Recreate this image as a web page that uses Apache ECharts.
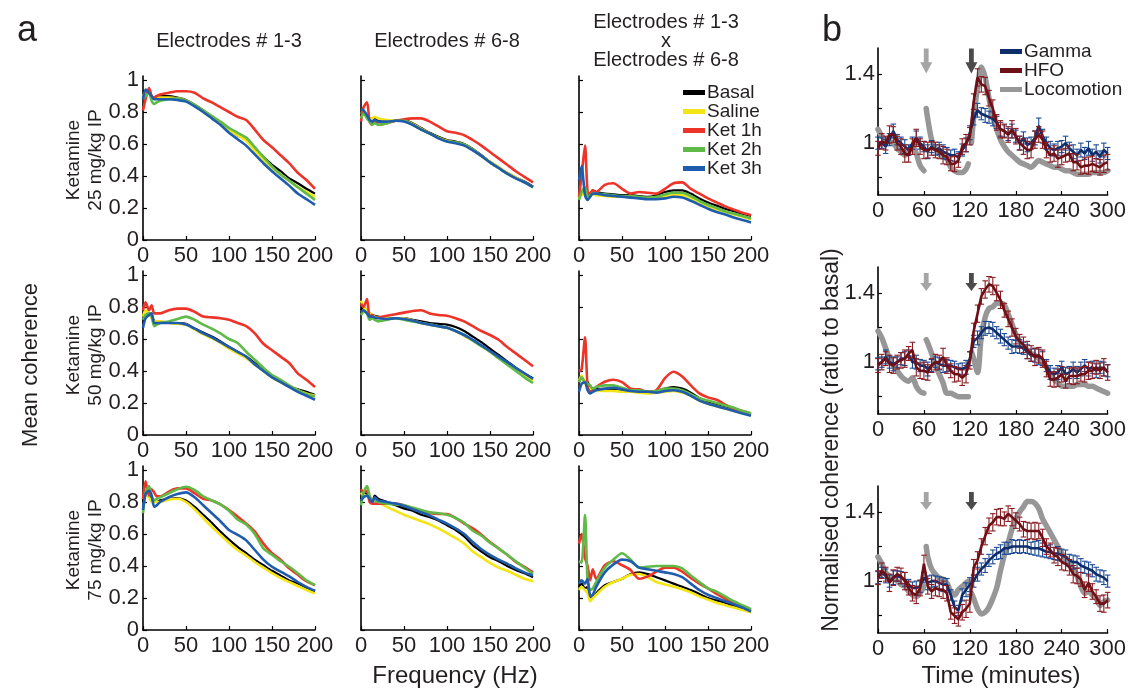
<!DOCTYPE html>
<html><head><meta charset="utf-8">
<script src="https://cdn.jsdelivr.net/npm/echarts@6/dist/echarts.min.js"></script>
<style>html,body{margin:0;padding:0;background:#fff}#c{width:1129px;height:689px}</style>
</head><body><div id="c"></div>
<script>
// ---------- Panel a data (frequency in Hz) ----------
const freqHz = [0,3,7,10,13,16,20,30,40,50,60,70,80,90,100,110,120,130,140,150,160,170,180,190,200];
const conditions = ['Basal','Saline','Ket 1h','Ket 2h','Ket 3h'];
const freqTicks = [0,50,100,150,200];
const cohTicks = [0,0.2,0.4,0.6,0.8,1];

// Row 1: Ketamine 25 mg/kg
const r1c1_basal = [0.93,0.93,0.94,0.90,0.88,0.90,0.90,0.90,0.89,0.875,0.845,0.81,0.77,0.73,0.69,0.655,0.625,0.57,0.52,0.47,0.43,0.385,0.355,0.32,0.29];
const r1c1_saline = [0.90,0.92,0.92,0.90,0.89,0.89,0.89,0.89,0.885,0.87,0.84,0.80,0.765,0.73,0.69,0.655,0.62,0.56,0.50,0.45,0.41,0.37,0.33,0.30,0.27];
const r1c1_ket1 = [0.81,0.88,0.95,0.90,0.89,0.90,0.91,0.92,0.93,0.93,0.92,0.885,0.86,0.83,0.80,0.77,0.75,0.69,0.625,0.58,0.53,0.48,0.42,0.375,0.32];
const r1c1_ket2 = [0.88,0.90,0.92,0.87,0.85,0.86,0.87,0.88,0.885,0.87,0.845,0.81,0.775,0.74,0.70,0.67,0.64,0.58,0.52,0.46,0.41,0.37,0.33,0.29,0.25];
const r1c1_ket3 = [0.88,0.94,0.92,0.90,0.88,0.88,0.88,0.88,0.875,0.865,0.835,0.80,0.76,0.72,0.67,0.63,0.59,0.535,0.48,0.43,0.385,0.34,0.29,0.255,0.22];

const r1c2_basal = [0.78,0.80,0.77,0.76,0.73,0.76,0.745,0.74,0.745,0.75,0.73,0.70,0.67,0.645,0.625,0.615,0.60,0.57,0.53,0.49,0.455,0.42,0.39,0.365,0.335];
const r1c2_saline = [0.80,0.79,0.77,0.76,0.76,0.77,0.76,0.75,0.745,0.745,0.725,0.695,0.665,0.64,0.62,0.61,0.595,0.565,0.525,0.49,0.455,0.42,0.39,0.36,0.33];
const r1c2_ket1 = [0.74,0.83,0.86,0.74,0.72,0.75,0.72,0.73,0.745,0.755,0.76,0.76,0.74,0.71,0.68,0.67,0.655,0.625,0.59,0.55,0.51,0.47,0.43,0.395,0.36];
const r1c2_ket2 = [0.76,0.79,0.76,0.74,0.72,0.73,0.72,0.73,0.745,0.745,0.72,0.69,0.665,0.64,0.615,0.61,0.595,0.565,0.525,0.485,0.45,0.415,0.385,0.36,0.33];
const r1c2_ket3 = [0.82,0.81,0.78,0.75,0.74,0.75,0.74,0.74,0.745,0.74,0.72,0.69,0.665,0.635,0.615,0.605,0.59,0.56,0.525,0.485,0.45,0.415,0.385,0.36,0.33];

const r1c3_basal = [0.28,0.30,0.32,0.28,0.29,0.31,0.30,0.29,0.285,0.28,0.28,0.275,0.27,0.28,0.30,0.31,0.31,0.29,0.26,0.235,0.215,0.195,0.18,0.165,0.15];
const r1c3_saline = [0.26,0.28,0.30,0.27,0.28,0.285,0.28,0.275,0.27,0.27,0.27,0.265,0.26,0.26,0.27,0.28,0.28,0.26,0.235,0.21,0.19,0.175,0.16,0.145,0.13];
const r1c3_ket1 = [0.27,0.40,0.59,0.30,0.29,0.31,0.30,0.345,0.355,0.32,0.29,0.30,0.295,0.29,0.32,0.355,0.36,0.32,0.29,0.26,0.235,0.21,0.19,0.17,0.155];
const r1c3_ket2 = [0.25,0.30,0.33,0.27,0.28,0.29,0.29,0.285,0.28,0.275,0.275,0.27,0.265,0.27,0.285,0.295,0.295,0.275,0.245,0.22,0.20,0.18,0.165,0.15,0.135];
const r1c3_ket3 = [0.37,0.46,0.28,0.25,0.27,0.29,0.29,0.28,0.275,0.27,0.265,0.26,0.255,0.255,0.26,0.27,0.265,0.245,0.22,0.195,0.175,0.16,0.14,0.125,0.11];

// Row 2: Ketamine 50 mg/kg
const r2c1_basal = [0.70,0.74,0.76,0.75,0.71,0.70,0.70,0.70,0.70,0.695,0.665,0.64,0.615,0.585,0.55,0.52,0.49,0.45,0.405,0.365,0.335,0.305,0.285,0.27,0.25];
const r2c1_saline = [0.74,0.78,0.76,0.73,0.71,0.71,0.71,0.70,0.695,0.69,0.66,0.63,0.605,0.575,0.54,0.51,0.48,0.44,0.40,0.36,0.33,0.305,0.28,0.26,0.245];
const r2c1_ket1 = [0.78,0.83,0.78,0.81,0.76,0.76,0.76,0.78,0.79,0.79,0.77,0.74,0.735,0.73,0.72,0.70,0.68,0.635,0.57,0.53,0.49,0.45,0.385,0.345,0.30];
const r2c1_ket2 = [0.72,0.75,0.76,0.74,0.68,0.69,0.70,0.71,0.725,0.74,0.72,0.69,0.665,0.635,0.60,0.575,0.52,0.47,0.42,0.375,0.345,0.31,0.28,0.255,0.24];
const r2c1_ket3 = [0.67,0.73,0.75,0.76,0.70,0.70,0.70,0.70,0.70,0.69,0.665,0.635,0.61,0.58,0.55,0.52,0.49,0.44,0.40,0.36,0.33,0.30,0.27,0.245,0.22];

const r2c2_basal = [0.78,0.80,0.78,0.76,0.75,0.745,0.74,0.73,0.73,0.73,0.72,0.71,0.70,0.695,0.69,0.675,0.65,0.615,0.58,0.54,0.50,0.46,0.42,0.385,0.355];
const r2c2_saline = [0.84,0.80,0.78,0.76,0.75,0.74,0.735,0.73,0.73,0.73,0.715,0.70,0.69,0.68,0.67,0.65,0.62,0.59,0.555,0.52,0.48,0.45,0.41,0.375,0.34];
const r2c2_ket1 = [0.82,0.80,0.85,0.74,0.75,0.73,0.735,0.745,0.755,0.765,0.775,0.78,0.76,0.75,0.745,0.73,0.71,0.68,0.65,0.625,0.595,0.55,0.51,0.47,0.43];
const r2c2_ket2 = [0.75,0.77,0.76,0.72,0.73,0.72,0.71,0.72,0.73,0.72,0.71,0.70,0.69,0.68,0.67,0.65,0.625,0.59,0.555,0.52,0.48,0.44,0.40,0.36,0.325];
const r2c2_ket3 = [0.77,0.78,0.76,0.74,0.74,0.735,0.73,0.725,0.73,0.725,0.715,0.70,0.69,0.68,0.67,0.65,0.625,0.595,0.56,0.525,0.49,0.455,0.42,0.385,0.35];

const r2c3_basal = [0.33,0.36,0.33,0.33,0.30,0.29,0.29,0.285,0.285,0.28,0.28,0.275,0.27,0.275,0.29,0.30,0.29,0.265,0.23,0.205,0.19,0.175,0.16,0.145,0.13];
const r2c3_saline = [0.34,0.37,0.32,0.30,0.29,0.28,0.28,0.275,0.275,0.27,0.27,0.265,0.26,0.265,0.27,0.275,0.265,0.245,0.215,0.195,0.18,0.165,0.15,0.14,0.125];
const r2c3_ket1 = [0.40,0.41,0.61,0.30,0.27,0.28,0.30,0.333,0.345,0.33,0.29,0.285,0.27,0.28,0.355,0.395,0.365,0.31,0.26,0.235,0.22,0.19,0.165,0.15,0.135];
const r2c3_ket2 = [0.33,0.36,0.33,0.32,0.31,0.29,0.30,0.31,0.31,0.295,0.28,0.28,0.27,0.275,0.29,0.29,0.28,0.255,0.23,0.215,0.20,0.185,0.17,0.15,0.135];
const r2c3_ket3 = [0.27,0.32,0.33,0.28,0.26,0.27,0.28,0.29,0.295,0.285,0.275,0.27,0.27,0.265,0.275,0.28,0.27,0.245,0.215,0.195,0.18,0.165,0.15,0.135,0.12];

// Row 3: Ketamine 75 mg/kg
const r3c1_basal = [0.80,0.86,0.85,0.82,0.80,0.80,0.81,0.82,0.825,0.81,0.77,0.72,0.67,0.615,0.565,0.52,0.48,0.44,0.405,0.37,0.34,0.31,0.29,0.265,0.24];
const r3c1_saline = [0.82,0.84,0.83,0.80,0.80,0.80,0.80,0.815,0.82,0.80,0.755,0.70,0.645,0.595,0.545,0.50,0.465,0.425,0.39,0.355,0.325,0.30,0.275,0.25,0.23];
const r3c1_ket1 = [0.82,0.93,0.84,0.88,0.86,0.835,0.835,0.865,0.885,0.885,0.855,0.82,0.81,0.785,0.75,0.71,0.665,0.615,0.54,0.48,0.44,0.385,0.345,0.305,0.28];
const r3c1_ket2 = [0.73,0.86,0.90,0.84,0.81,0.82,0.83,0.855,0.88,0.895,0.875,0.835,0.81,0.785,0.745,0.69,0.66,0.60,0.51,0.47,0.43,0.395,0.355,0.31,0.28];
const r3c1_ket3 = [0.75,0.85,0.87,0.84,0.77,0.78,0.80,0.83,0.85,0.86,0.83,0.78,0.73,0.68,0.625,0.595,0.56,0.50,0.44,0.395,0.365,0.335,0.30,0.27,0.245];

const r3c2_basal = [0.82,0.86,0.85,0.83,0.80,0.84,0.82,0.80,0.78,0.76,0.745,0.72,0.705,0.685,0.655,0.625,0.585,0.53,0.49,0.455,0.43,0.40,0.375,0.355,0.33];
const r3c2_saline = [0.86,0.84,0.84,0.82,0.81,0.82,0.80,0.77,0.745,0.72,0.70,0.68,0.66,0.635,0.605,0.575,0.54,0.49,0.455,0.42,0.39,0.37,0.345,0.32,0.305];
const r3c2_ket1 = [0.88,0.86,0.87,0.80,0.79,0.79,0.79,0.79,0.79,0.78,0.76,0.745,0.73,0.725,0.725,0.70,0.665,0.635,0.595,0.55,0.51,0.47,0.425,0.395,0.36];
const r3c2_ket2 = [0.78,0.86,0.90,0.84,0.81,0.81,0.80,0.79,0.785,0.78,0.765,0.75,0.735,0.73,0.72,0.70,0.67,0.62,0.59,0.545,0.51,0.47,0.43,0.39,0.35];
const r3c2_ket3 = [0.81,0.83,0.84,0.82,0.80,0.83,0.81,0.80,0.79,0.775,0.755,0.735,0.715,0.69,0.665,0.635,0.60,0.55,0.505,0.47,0.44,0.415,0.385,0.36,0.34];

const r3c3_basal = [0.27,0.29,0.26,0.27,0.21,0.20,0.23,0.28,0.30,0.32,0.35,0.36,0.35,0.33,0.31,0.29,0.27,0.25,0.225,0.20,0.185,0.17,0.15,0.135,0.12];
const r3c3_saline = [0.25,0.27,0.25,0.23,0.18,0.20,0.22,0.27,0.30,0.32,0.345,0.35,0.33,0.30,0.285,0.27,0.255,0.235,0.21,0.19,0.17,0.155,0.14,0.125,0.11];
const r3c3_ket1 = [0.54,0.60,0.45,0.40,0.31,0.38,0.32,0.405,0.43,0.405,0.375,0.32,0.335,0.365,0.39,0.39,0.365,0.325,0.29,0.26,0.225,0.195,0.165,0.145,0.125];
const r3c3_ket2 = [0.43,0.42,0.72,0.30,0.25,0.26,0.30,0.39,0.44,0.48,0.44,0.39,0.395,0.40,0.40,0.40,0.385,0.34,0.30,0.26,0.24,0.21,0.18,0.155,0.13];
const r3c3_ket3 = [0.29,0.31,0.29,0.32,0.21,0.22,0.27,0.36,0.41,0.44,0.43,0.39,0.38,0.37,0.36,0.35,0.33,0.29,0.25,0.22,0.20,0.18,0.16,0.14,0.115];

// ---------- Panel b data (time in minutes) ----------
const timeMin = [0,5,10,15,20,25,30,35,40,45,50,55,60,65,70,75,80,85,90,95,100,105,110,115,120,125,130,135,140,145,150,155,160,165,170,175,180,185,190,195,200,205,210,215,220,225,230,235,240,245,250,255,260,265,270,275,280,285,290,295,300];
const timeTicks = [0,60,120,180,240,300];
const normTicks = [0.8,1,1.2,1.4];
const normLabels = [1,1.4];
const arrowTimes = [63,122];

const gamma1 = [1.00,1.00,0.98,1.02,1.07,1.02,1.00,0.98,0.96,1.00,1.03,1.00,0.98,0.95,0.98,0.96,0.97,0.95,0.94,0.93,0.93,0.92,0.96,0.99,1.06,1.14,1.19,1.17,1.16,1.15,1.14,1.12,1.08,1.07,1.05,1.07,1.04,1.00,1.03,0.99,1.00,1.03,1.10,1.04,1.00,0.97,0.96,0.97,0.98,1.00,0.97,0.95,0.93,0.96,0.94,0.97,0.93,0.95,0.92,0.96,0.94];
const hfo1 = [0.97,1.01,1.00,1.05,1.05,1.00,0.98,0.94,0.93,0.98,1.03,0.98,0.96,0.96,0.97,0.96,0.95,0.93,0.92,0.88,0.88,0.90,0.98,1.00,1.04,1.24,1.38,1.34,1.33,1.26,1.20,1.12,1.08,1.07,1.05,1.08,1.04,1.00,0.98,0.96,0.96,1.02,1.05,1.02,0.96,0.93,0.94,0.91,0.92,0.93,0.94,0.89,0.89,0.86,0.87,0.87,0.88,0.87,0.86,0.88,0.89];
const gamma2 = [0.99,1.00,1.03,1.00,0.99,1.00,1.02,1.02,1.04,1.00,1.00,0.98,0.98,0.96,0.98,1.00,0.99,0.98,0.98,0.98,0.97,0.96,0.96,0.97,1.02,1.12,1.14,1.17,1.195,1.20,1.19,1.17,1.15,1.13,1.11,1.09,1.09,1.09,1.08,1.06,1.04,1.04,1.03,1.02,0.98,0.94,0.93,0.94,0.97,0.93,0.94,0.96,0.94,0.96,0.98,0.96,0.97,0.95,0.97,0.96,0.95];
const hfo2 = [0.98,1.00,1.02,0.99,0.98,1.00,1.01,1.02,1.05,1.07,0.97,0.95,0.95,0.94,0.98,1.00,1.00,1.03,0.98,0.95,0.93,0.93,0.91,0.93,1.01,1.18,1.28,1.38,1.42,1.45,1.44,1.40,1.36,1.30,1.25,1.20,1.15,1.12,1.10,1.07,1.05,1.03,1.04,1.02,0.96,0.90,0.90,0.91,0.93,0.89,0.92,0.92,0.92,0.93,0.93,0.95,0.95,0.97,0.95,0.97,0.94];
const gamma3 = [1.02,1.05,1.03,1.00,1.02,1.03,1.02,1.01,0.98,0.96,0.96,0.97,1.02,0.99,1.00,1.00,0.99,0.98,0.98,0.92,0.85,0.83,0.92,0.95,0.98,1.00,1.04,1.07,1.09,1.12,1.14,1.16,1.17,1.19,1.19,1.20,1.20,1.20,1.20,1.20,1.19,1.19,1.19,1.18,1.17,1.17,1.16,1.16,1.15,1.14,1.12,1.11,1.11,1.09,1.08,1.07,1.06,1.04,1.03,1.02,1.00];
const hfo3 = [1.02,1.06,1.04,0.99,1.02,1.04,1.03,1.00,0.96,0.93,0.92,0.96,1.10,0.97,0.94,0.96,0.95,0.95,0.93,0.82,0.80,0.78,0.82,0.84,0.87,1.08,1.12,1.20,1.26,1.32,1.34,1.37,1.37,1.36,1.39,1.37,1.35,1.33,1.30,1.29,1.29,1.29,1.29,1.25,1.20,1.18,1.15,1.14,1.11,1.10,1.08,1.04,1.03,1.01,0.95,0.99,0.94,0.91,0.87,0.87,0.89];
const errGamma = [0.035,0.03,0.04,0.035,0.04,0.03,0.035,0.04,0.03,0.035,0.04,0.035,0.03,0.04,0.035,0.03,0.035,0.04,0.035,0.03,0.035,0.03,0.035,0.04,0.04,0.035,0.04,0.035,0.04,0.035,0.04,0.035,0.04,0.035,0.035,0.04,0.035,0.04,0.035,0.04,0.035,0.04,0.045,0.04,0.035,0.04,0.035,0.04,0.035,0.04,0.035,0.04,0.035,0.04,0.035,0.04,0.035,0.04,0.035,0.04,0.035];
const errHFO = [0.04,0.045,0.04,0.05,0.045,0.04,0.045,0.05,0.04,0.045,0.05,0.045,0.05,0.045,0.04,0.045,0.04,0.05,0.045,0.04,0.045,0.04,0.045,0.05,0.05,0.045,0.05,0.045,0.05,0.045,0.05,0.045,0.05,0.04,0.045,0.05,0.045,0.04,0.045,0.05,0.045,0.05,0.045,0.05,0.045,0.04,0.045,0.05,0.045,0.04,0.045,0.05,0.045,0.04,0.045,0.05,0.045,0.04,0.045,0.05,0.045];

const locoTime = [0,5,10,15,20,25,30,35,40,45,50,55,60,61,63,65,70,75,80,85,90,95,100,105,110,115,118,120,122,125,130,135,140,145,150,155,160,165,170,175,180,185,190,195,200,205,210,215,220,225,230,235,240,245,250,255,260,265,270,275,280,285,290,295,300];
const loco1 = [1.08,1.04,1.02,1.01,1.00,0.97,0.95,0.93,0.96,0.98,0.94,0.87,0.84,null,1.20,1.14,1.02,0.97,0.94,0.92,0.91,0.86,0.84,0.83,0.83,0.85,0.88,null,1.00,1.15,1.32,1.44,1.38,1.26,1.15,1.08,1.02,0.98,0.95,0.93,0.91,0.89,0.88,0.87,0.86,0.88,0.90,0.89,0.88,0.87,0.86,0.86,0.85,0.84,0.84,0.83,0.82,0.82,0.82,0.82,0.83,0.83,0.83,0.83,0.84];
const loco2 = [1.18,1.14,1.08,1.02,0.98,0.95,0.92,0.90,0.89,0.91,0.86,0.83,0.82,null,1.13,1.11,1.05,0.98,0.93,0.88,0.82,0.82,0.81,0.80,0.80,0.80,0.80,null,1.06,1.02,0.94,1.15,1.26,1.31,1.32,1.34,1.34,1.33,1.28,1.22,1.16,1.12,1.09,1.07,1.05,1.04,1.02,1.00,0.97,0.93,0.90,0.88,0.86,0.86,0.86,0.86,0.87,0.87,0.87,0.86,0.86,0.85,0.84,0.83,0.82];
const loco3 = [1.14,1.10,1.05,1.03,1.02,1.00,0.98,0.97,0.94,0.92,0.91,0.93,0.97,null,1.20,1.14,1.07,1.04,1.02,1.01,0.99,0.94,0.92,0.95,0.97,0.99,1.00,null,0.93,0.90,0.84,0.81,0.82,0.85,0.90,0.96,1.06,1.15,1.22,1.30,1.36,1.40,1.43,1.46,1.46,1.45,1.42,1.36,1.32,1.28,1.24,1.20,1.16,1.13,1.10,1.07,1.03,0.97,0.93,0.94,0.92,0.90,0.86,0.88,0.89];

// ---------- assembly ----------
const panelA = [
  [[r1c1_basal,r1c1_saline,r1c1_ket1,r1c1_ket2,r1c1_ket3],[r1c2_basal,r1c2_saline,r1c2_ket1,r1c2_ket2,r1c2_ket3],[r1c3_basal,r1c3_saline,r1c3_ket1,r1c3_ket2,r1c3_ket3]],
  [[r2c1_basal,r2c1_saline,r2c1_ket1,r2c1_ket2,r2c1_ket3],[r2c2_basal,r2c2_saline,r2c2_ket1,r2c2_ket2,r2c2_ket3],[r2c3_basal,r2c3_saline,r2c3_ket1,r2c3_ket2,r2c3_ket3]],
  [[r3c1_basal,r3c1_saline,r3c1_ket1,r3c1_ket2,r3c1_ket3],[r3c2_basal,r3c2_saline,r3c2_ket1,r3c2_ket2,r3c2_ket3],[r3c3_basal,r3c3_saline,r3c3_ket1,r3c3_ket2,r3c3_ket3]]
];
const panelB = [[gamma1,hfo1,loco1],[gamma2,hfo2,loco2],[gamma3,hfo3,loco3]];

const FONT = "'Liberation Sans', Arial, Helvetica, sans-serif";
const TXT = '#231f20';
const condColors = ['#000000','#f3e515','#ee3329','#5fba47','#1f5cad'];
const condWidth = [2.2,2.6,2.6,2.6,2.6];
const colGamma = '#0f2d6b', colHFO = '#6f1016', colLoco = '#979797';

const grids = [], xAxes = [], yAxes = [], series = [];
const colLeft = [143, 361, 579], rowTopA = [76, 271, 466];
const rowTopB = [48, 267, 486];

function axisBase() {
  return {
    axisLine: {show: true, lineStyle: {color: '#000', width: 1.6}},
    axisTick: {show: true, inside: true, length: 4, lineStyle: {color: '#000', width: 1.2}},
    axisLabel: {color: TXT, fontSize: 22, fontFamily: FONT},
    splitLine: {show: false}
  };
}

for (let r = 0; r < 3; r++) {
  for (let c = 0; c < 3; c++) {
    const gi = grids.length;
    grids.push({left: colLeft[c], top: rowTopA[r], width: 172, height: 164});
    const xa = axisBase();
    Object.assign(xa, {gridIndex: gi, type: 'value', min: 0, max: 200, interval: 50});
    xa.axisLabel = Object.assign({}, xa.axisLabel, {margin: 5});
    xAxes.push(xa);
    const ya = axisBase();
    Object.assign(ya, {gridIndex: gi, type: 'value', min: 0, max: 1.025});
    ya.axisTick = Object.assign({}, ya.axisTick, {customValues: cohTicks});
    ya.axisLabel = Object.assign({}, ya.axisLabel, {show: c === 0, customValues: cohTicks, margin: 4});
    yAxes.push(ya);
    panelA[r][c].forEach((vals, k) => {
      series.push({
        name: conditions[k], type: 'line', xAxisIndex: gi, yAxisIndex: gi,
        data: freqHz.map((f, i) => [f, vals[i]]),
        showSymbol: false, symbol: 'none', smooth: 0.25,
        lineStyle: {color: condColors[k], width: condWidth[k]},
        itemStyle: {color: condColors[k]}, z: 2 + k
      });
    });
  }
}

function errRender(params, api) {
  const t = api.value(0), lo = api.value(1), hi = api.value(2);
  const p1 = api.coord([t, lo]), p2 = api.coord([t, hi]);
  const w = 2.8, col = api.visual('color');
  const st = () => ({stroke: col, lineWidth: 1.1});
  return {type: 'group', children: [
    {type: 'line', shape: {x1: p1[0], y1: p1[1], x2: p2[0], y2: p2[1]}, style: st()},
    {type: 'line', shape: {x1: p1[0]-w, y1: p1[1], x2: p1[0]+w, y2: p1[1]}, style: st()},
    {type: 'line', shape: {x1: p2[0]-w, y1: p2[1], x2: p2[0]+w, y2: p2[1]}, style: st()}
  ]};
}

const arrowPath = 'path://M3,0 L7,0 L7,11 L10,11 L5,20 L0,11 L3,11 Z';
const arrowSize = [[12,25],[12,18],[12,18]];
const arrowY = [1.475, 1.463, 1.463];

for (let r = 0; r < 3; r++) {
  const gi = grids.length;
  grids.push({left: 878, top: rowTopB[r], width: 233, height: 147});
  const xa = axisBase();
  Object.assign(xa, {gridIndex: gi, type: 'value', min: 0, max: 300, interval: 60});
  xa.axisLabel = Object.assign({}, xa.axisLabel, {margin: 5});
  xAxes.push(xa);
  const ya = axisBase();
  Object.assign(ya, {gridIndex: gi, type: 'value', min: 0.7, max: 1.55});
  ya.axisTick = Object.assign({}, ya.axisTick, {customValues: normTicks});
  ya.axisLabel = Object.assign({}, ya.axisLabel, {customValues: normLabels, margin: 3});
  yAxes.push(ya);
  const [g, h, l] = panelB[r];
  series.push({name: 'Locomotion', type: 'line', xAxisIndex: gi, yAxisIndex: gi,
    data: locoTime.map((t, i) => [t, l[i]]), showSymbol: false, symbol: 'none', smooth: 0.3,
    connectNulls: false, lineStyle: {color: colLoco, width: 5.5, cap: 'round'}, itemStyle: {color: colLoco}, z: 1});
  series.push({name: 'GammaErr', type: 'custom', xAxisIndex: gi, yAxisIndex: gi,
    data: timeMin.map((t, i) => [t, g[i] - errGamma[i], g[i] + errGamma[i]]),
    encode: {x: 0, y: [1, 2]}, renderItem: errRender, itemStyle: {color: '#1b4a94'}, z: 2});
  series.push({name: 'Gamma', type: 'line', xAxisIndex: gi, yAxisIndex: gi,
    data: timeMin.map((t, i) => [t, g[i]]), showSymbol: false, symbol: 'none',
    lineStyle: {color: colGamma, width: 2.6}, itemStyle: {color: colGamma}, z: 3});
  series.push({name: 'HFOErr', type: 'custom', xAxisIndex: gi, yAxisIndex: gi,
    data: timeMin.map((t, i) => [t, h[i] - errHFO[i], h[i] + errHFO[i]]),
    encode: {x: 0, y: [1, 2]}, renderItem: errRender, itemStyle: {color: '#8a1c22'}, z: 4});
  series.push({name: 'HFO', type: 'line', xAxisIndex: gi, yAxisIndex: gi,
    data: timeMin.map((t, i) => [t, h[i]]), showSymbol: false, symbol: 'none',
    lineStyle: {color: colHFO, width: 2.6}, itemStyle: {color: colHFO}, z: 5});
  series.push({name: 'arrowInj', type: 'scatter', xAxisIndex: gi, yAxisIndex: gi,
    data: arrowTimes.map((t, i) => ({value: [t, arrowY[r]], itemStyle: {color: i === 0 ? '#8e8e8e' : '#1e1e1e'}})),
    symbol: arrowPath, symbolSize: arrowSize[r], z: 6, silent: true});
}

function txt(x, y, text, size, opts) {
  opts = opts || {};
  return {type: 'text', x: x, y: y, rotation: opts.rot || 0, z: 100,
    style: {text: text, x: 0, y: 0, fill: opts.color || TXT, font: (opts.weight || 'normal') + ' ' + size + 'px ' + FONT,
      fontSize: size, fontFamily: FONT, textAlign: 'center', align: 'center', textVerticalAlign: 'middle', verticalAlign: 'middle'}};
}
const V = Math.PI / 2;
const graphics = [
  txt(27, 31, 'a', 36), txt(832, 31, 'b', 36),
  txt(229, 41, 'Electrodes # 1-3', 20), txt(447, 41, 'Electrodes # 6-8', 20),
  txt(666, 22, 'Electrodes # 1-3', 20), txt(666, 41, 'x', 20), txt(666, 60, 'Electrodes # 6-8', 20),
  txt(74, 160, 'Ketamine', 19, {rot: V}), txt(96, 160, '25 mg/kg IP', 19, {rot: V}),
  txt(74, 355, 'Ketamine', 19, {rot: V}), txt(96, 355, '50 mg/kg IP', 19, {rot: V}),
  txt(74, 550, 'Ketamine', 19, {rot: V}), txt(96, 550, '75 mg/kg IP', 19, {rot: V}),
  txt(31, 365, 'Mean coherence', 22, {rot: V}),
  txt(455, 676, 'Frequency (Hz)', 24),
  txt(832, 440, 'Normalised coherence (ratio to basal)', 23, {rot: V}),
  txt(1001, 676, 'Time (minutes)', 24)
];

const option = {
  animation: false,
  backgroundColor: '#ffffff',
  textStyle: {fontFamily: FONT},
  grid: grids, xAxis: xAxes, yAxis: yAxes, series: series,
  legend: [
    {data: conditions, orient: 'vertical', left: 678, top: 78, itemWidth: 22, itemHeight: 5, itemGap: 0,
      icon: 'rect', textStyle: {fontSize: 19, color: TXT, fontFamily: FONT, padding: [0,0,0,-3]}, selectedMode: false},
    {data: ['Gamma','HFO','Locomotion'], orient: 'vertical', left: 995, top: 37, itemWidth: 22, itemHeight: 5, itemGap: 0,
      icon: 'rect', textStyle: {fontSize: 19, color: TXT, fontFamily: FONT, padding: [0,0,0,-3]}, selectedMode: false}
  ],
  graphic: graphics
};
const chart = echarts.init(document.getElementById('c'));
chart.setOption(option);
</script></body></html>
